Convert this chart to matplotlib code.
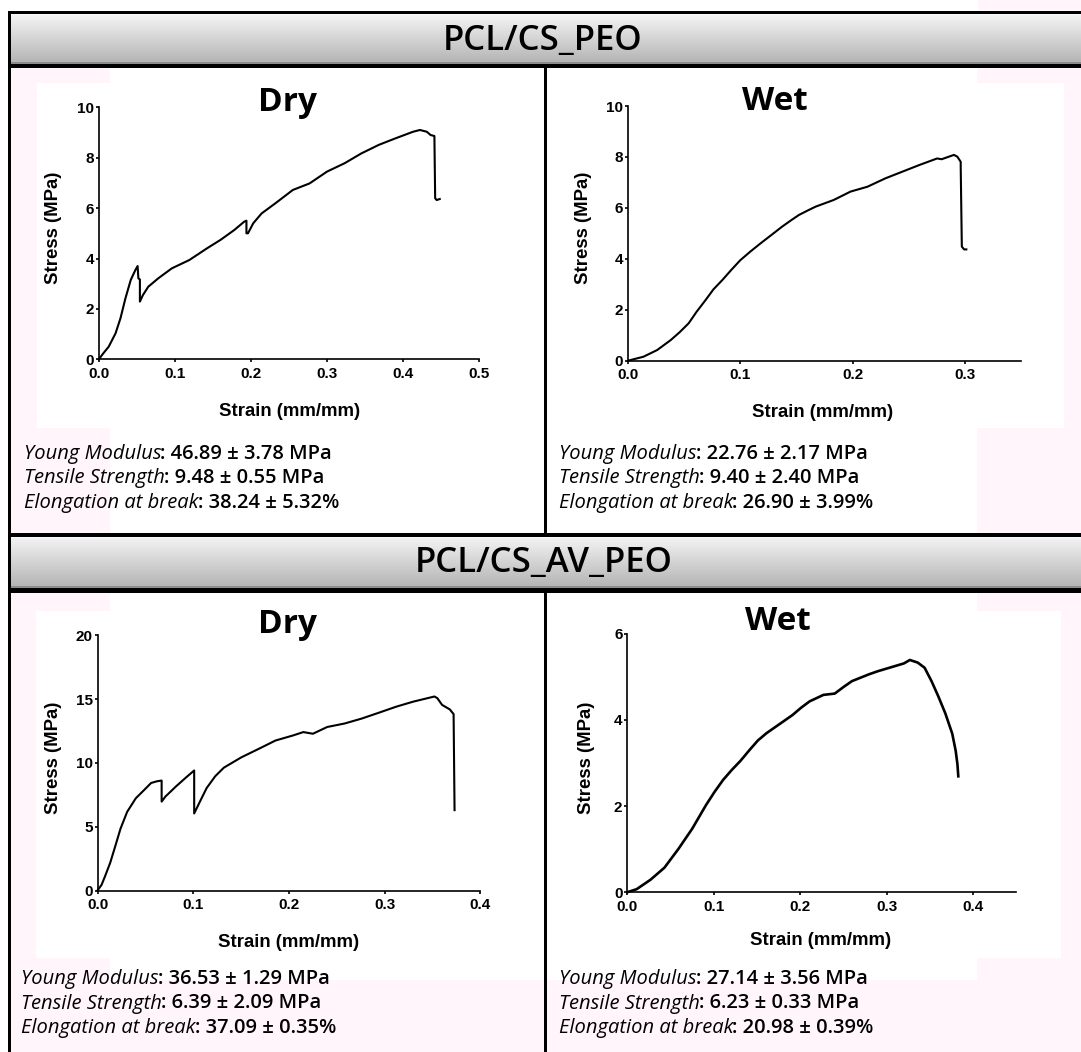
import numpy as np
import matplotlib
matplotlib.use('Agg')
import matplotlib.pyplot as plt
from matplotlib.patches import Rectangle

W, H = 1081, 1052
FONT_TXT = ['Open Sans', 'DejaVu Sans']
FONT_AX = ['Liberation Sans', 'DejaVu Sans']
PINK = '#fff5fa'

headers = ['PCL/CS_PEO', 'PCL/CS_AV_PEO']
conditions = ['Dry', 'Wet', 'Dry', 'Wet']

# curves (strain mm/mm, stress MPa)
dry1_strain = [0, 0.006, 0.013, 0.022, 0.0285, 0.035, 0.042, 0.048, 0.051, 0.052, 0.054, 0.054,
               0.058, 0.065, 0.078, 0.096, 0.119, 0.142, 0.160, 0.178, 0.191, 0.194, 0.194, 0.196,
               0.203, 0.214, 0.232, 0.255, 0.277, 0.300, 0.323, 0.345, 0.368, 0.390, 0.413, 0.422,
               0.431, 0.436, 0.441, 0.442, 0.444, 0.448]
dry1_stress = [0, 0.24, 0.5, 1.03, 1.63, 2.42, 3.15, 3.54, 3.70, 3.21, 3.17, 2.29,
               2.55, 2.88, 3.21, 3.61, 3.94, 4.40, 4.74, 5.13, 5.46, 5.50, 5.0, 5.0,
               5.40, 5.79, 6.19, 6.72, 6.98, 7.45, 7.78, 8.17, 8.51, 8.77, 9.03, 9.10,
               9.03, 8.90, 8.86, 6.39, 6.32, 6.36]

wet1_strain = [0, 0.0138, 0.026, 0.038, 0.046, 0.054, 0.061, 0.069, 0.076, 0.084, 0.092, 0.100,
               0.109, 0.118, 0.128, 0.137, 0.145, 0.152, 0.160, 0.167, 0.175, 0.183, 0.198, 0.213,
               0.229, 0.244, 0.259, 0.275, 0.279, 0.290, 0.293, 0.296, 0.296, 0.297, 0.299, 0.301]
wet1_stress = [0, 0.157, 0.42, 0.81, 1.12, 1.47, 1.92, 2.38, 2.80, 3.17, 3.57, 3.95,
               4.29, 4.61, 4.95, 5.26, 5.51, 5.72, 5.90, 6.05, 6.18, 6.31, 6.64, 6.83,
               7.16, 7.42, 7.68, 7.94, 7.91, 8.08, 8.01, 7.81, 7.62, 4.48, 4.37, 4.37]

dry2_strain = [0, 0.0043, 0.0079, 0.0133, 0.0187, 0.024, 0.031, 0.040, 0.049, 0.056, 0.062, 0.067,
               0.067, 0.071, 0.082, 0.092, 0.101, 0.101, 0.107, 0.114, 0.123, 0.132, 0.150, 0.168,
               0.186, 0.204, 0.215, 0.225, 0.240, 0.258, 0.276, 0.294, 0.312, 0.330, 0.352, 0.355,
               0.360, 0.368, 0.372, 0.373]
dry2_stress = [0, 0.45, 1.12, 2.18, 3.51, 4.84, 6.17, 7.23, 7.90, 8.43, 8.56, 8.62,
               6.97, 7.37, 8.16, 8.83, 9.41, 6.04, 6.97, 8.03, 8.96, 9.63, 10.43, 11.09,
               11.76, 12.15, 12.42, 12.29, 12.82, 13.09, 13.48, 13.94, 14.41, 14.81, 15.21, 15.08,
               14.55, 14.20, 13.83, 6.30]

wet2_strain = [0, 0.0108, 0.0269, 0.043, 0.059, 0.075, 0.091, 0.101, 0.111, 0.121, 0.131, 0.141,
               0.151, 0.161, 0.171, 0.181, 0.191, 0.201, 0.211, 0.227, 0.240, 0.250, 0.260, 0.270,
               0.280, 0.290, 0.300, 0.310, 0.320, 0.327, 0.336, 0.344, 0.352, 0.360, 0.368, 0.376,
               0.380, 0.382, 0.383]
wet2_stress = [0, 0.07, 0.29, 0.57, 1.0, 1.47, 2.02, 2.33, 2.61, 2.84, 3.05, 3.29,
               3.52, 3.69, 3.83, 3.97, 4.11, 4.28, 4.43, 4.58, 4.61, 4.76, 4.90, 4.98,
               5.06, 5.13, 5.19, 5.25, 5.31, 5.39, 5.33, 5.21, 4.90, 4.54, 4.15, 3.68,
               3.28, 2.97, 2.69]

xticks_list = [[0, 0.1, 0.2, 0.3, 0.4, 0.5], [0, 0.1, 0.2, 0.3],
               [0, 0.1, 0.2, 0.3, 0.4], [0, 0.1, 0.2, 0.3, 0.4]]
yticks_list = [[0, 2, 4, 6, 8, 10], [0, 2, 4, 6, 8, 10], [0, 5, 10, 15, 20], [0, 2, 4, 6]]
xmax_list = [0.5, 0.35, 0.4, 0.45]
ymax_list = [10, 10, 20, 6]

stats_labels = ['Young Modulus', 'Tensile Strength', 'Elongation at break']
stats_values = [
    [': 46.89 ± 3.78 MPa', ': 9.48 ± 0.55 MPa', ': 38.24 ± 5.32%'],
    [': 22.76 ± 2.17 MPa', ': 9.40 ± 2.40 MPa', ': 26.90 ± 3.99%'],
    [': 36.53 ± 1.29 MPa', ': 6.39 ± 2.09 MPa', ': 37.09 ± 0.35%'],
    [': 27.14 ± 3.56 MPa', ': 6.23 ± 0.33 MPa', ': 20.98 ± 0.39%'],
]

curves = [(dry1_strain, dry1_stress), (wet1_strain, wet1_stress),
          (dry2_strain, dry2_stress), (wet2_strain, wet2_stress)]

# layout in pixels (left, right, top, bottom of the plot area)
boxes = [(98.8, 479.3, 107.3, 359.3), (628, 1021.4, 106, 360.7),
         (97.5, 480.4, 635.4, 890.5), (627.3, 1016.2, 633.7, 892.2)]
title_pos = [(287.5, 111), (775, 110), (287.5, 633), (778, 630)]
ylab_pos = [(53.4, 228), (583, 228), (53.4, 757.5), (586.6, 757.5)]
xlab_pos = [(289.3, 411.7), (823, 412.3), (288.2, 942.5), (821, 940.8)]
stats_pos = [(24, [459, 483, 508]), (559, [459, 483, 508]),
             (21.3, [984, 1008.5, 1033]), (559, [984, 1008.5, 1033])]
line_w = [1.5, 1.5, 1.5, 1.9]

fig = plt.figure(figsize=(W / 100, H / 100), dpi=100)
bg = fig.add_axes([0, 0, 1, 1])
bg.axis('off')


def rect(x0, x1, y0, y1, color, z=1):
    bg.add_patch(Rectangle((x0, y0), x1 - x0, y1 - y0, facecolor=color, edgecolor='none', zorder=z))


# faint pink patches behind the panels
rect(978, W, 0, 11, PINK)
for y0, y1 in [(68, 533), (592, H)]:
    rect(11, 110, y0, y1, PINK)
    rect(977, W, y0, y1, PINK)
rect(11, W, 980, H, PINK)
rect(37, 545, 83, 428, 'white', 2)
rect(547, 1064, 83, 428, 'white', 2)
rect(36, 545, 611, 958, 'white', 2)
rect(547, 1061, 611, 958, 'white', 2)

# header bars with a grey gradient
grad = np.linspace(0.96, 0.70, 60)
grad_img = np.dstack([grad, grad, grad]).reshape(60, 1, 3)
for (t, b), name in zip([(14, 64), (536.5, 588)], headers):
    bg.imshow(grad_img, extent=(11, W, b, t), aspect='auto', origin='upper', zorder=3,
              interpolation='bilinear')
    rect(11, W, b - 2, b, '#8c8c8c', 4)
    rect(11, W, t, t + 1, '#fafafa', 4)
bg.text(543, 50, headers[0], ha='center', va='baseline', fontsize=25, family=FONT_TXT,
        fontweight='semibold', zorder=6)
bg.text(544, 572, headers[1], ha='center', va='baseline', fontsize=25, family=FONT_TXT,
        fontweight='semibold', zorder=6)

# black frame lines
rect(8, W, 11, 14, 'black', 5)
rect(8, W, 64, 68, 'black', 5)
rect(8, W, 533, 536.5, 'black', 5)
rect(8, W, 588, 592.5, 'black', 5)
rect(8, 11, 11, H, 'black', 5)
rect(543.5, 547, 68, 533, 'black', 5)
rect(543.5, 547, 592, H, 'black', 5)

bg.set_xlim(0, W)
bg.set_ylim(H, 0)
renderer = fig.canvas.get_renderer()

for i in range(4):
    l, r, t, b = boxes[i]
    ax = fig.add_axes([l / W, 1 - b / H, (r - l) / W, (b - t) / H])
    ax.patch.set_alpha(0)
    x, y = curves[i]
    ax.plot(x, y, color='black', lw=line_w[i], clip_on=False, solid_joinstyle='round')
    ax.set_xlim(0, xmax_list[i])
    ax.set_ylim(0, ymax_list[i])
    ax.set_xticks(xticks_list[i])
    ax.set_xticklabels(['%.1f' % v for v in xticks_list[i]])
    ax.set_yticks(yticks_list[i])
    ax.set_yticklabels([str(v) for v in yticks_list[i]])
    for s in ['top', 'right']:
        ax.spines[s].set_visible(False)
    for s in ['left', 'bottom']:
        ax.spines[s].set_linewidth(1.2)
    ax.tick_params(length=2.5, width=1.2, labelsize=11)
    ax.tick_params(axis='x', pad=3)
    ax.tick_params(axis='y', pad=1)
    for lab in ax.get_xticklabels() + ax.get_yticklabels():
        lab.set_family(FONT_AX)
        lab.set_fontweight('bold')

    ax.set_xlabel('Strain (mm/mm)', fontsize=13.4, fontweight='bold', family=FONT_AX)
    ax.set_ylabel('Stress (MPa)', fontsize=13.4, fontweight='bold', family=FONT_AX)
    xl, yl = xlab_pos[i]
    ax.xaxis.set_label_coords((xl - l) / (r - l), (b - yl) / (b - t))
    ax.xaxis.label.set_va('center')
    xl, yl = ylab_pos[i]
    ax.yaxis.set_label_coords((xl - l) / (r - l), (b - yl) / (b - t))
    ax.yaxis.label.set_va('center')
    ax.yaxis.label.set_ha('center')

    tx, ty = title_pos[i]
    bg.text(tx, ty, conditions[i], ha='center', va='baseline', fontsize=24,
            fontweight='bold', family=FONT_TXT, zorder=6)

    # italic label followed by the bold value on the same baseline
    sx, lines_y = stats_pos[i]
    for lab, val, ly in zip(stats_labels, stats_values[i], lines_y):
        t1 = bg.text(sx, ly, lab, ha='left', va='baseline', fontsize=14.5, style='italic',
                     family=FONT_TXT, zorder=6)
        x_end = t1.get_window_extent(renderer).x1 - 1
        bg.text(x_end, ly, val, ha='left', va='baseline', fontsize=14.5, fontweight='semibold',
                family=FONT_TXT, zorder=6)

fig.savefig('out.png', dpi=100)
